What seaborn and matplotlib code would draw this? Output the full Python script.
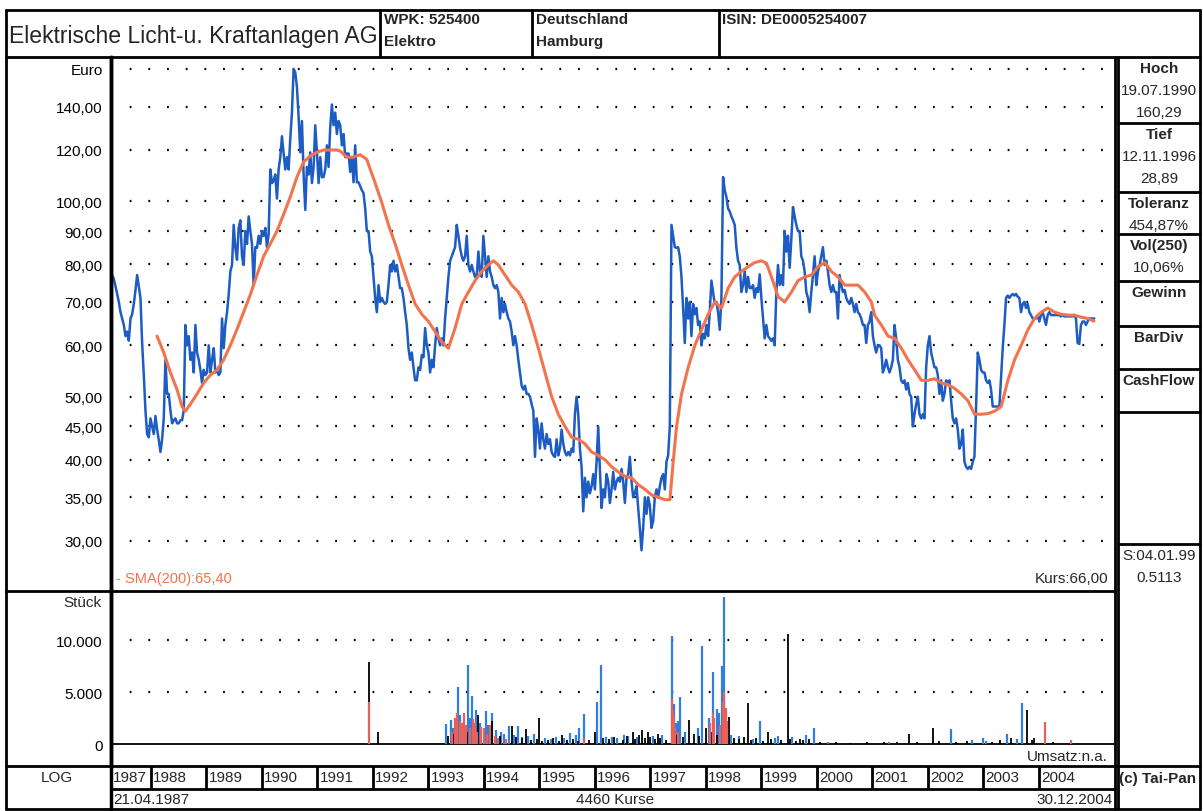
import numpy as np
import pandas as pd
import matplotlib
matplotlib.use("Agg")
import matplotlib.pyplot as plt
import seaborn as sns
from matplotlib.lines import Line2D
from matplotlib.ticker import NullLocator

W, H = 1203, 812

# --- data ---
start_date = "1987-04-21"
end_date = "2004-12-30"

price = [
    77, 76, 74, 72, 70, 67.5, 66, 64.5, 62, 63, 61, 66, 67, 69.5, 73, 77, 74, 71, 60.5, 54,
    47.6, 43.8, 43.3, 46.3, 45, 43.8, 46.7, 44.5, 42.9, 41.1, 43, 46.3, 57, 50.5, 50.5, 47.6, 45.5, 46, 46.3, 45.5,
    45.5, 46, 46, 47.6, 64.5, 60, 62, 57, 58.5, 54.5, 64.5, 58.5, 57, 55, 52.5, 55, 54, 54.5, 60, 54.5,
    57, 59.4, 54.5, 55, 54, 54.5, 66, 59.4, 64.5, 67.5, 71.8, 78, 79.8, 92, 84.8, 81.3, 91, 93.5, 82.3, 79.8,
    90, 86, 94.8, 90, 86, 74.3, 85, 84.8, 88.5, 86, 90, 88.5, 91, 85, 89, 112, 106.7, 107.7, 110, 101,
    112, 117, 126, 118.5, 112, 117, 112, 125, 137, 160, 158, 150, 135, 119, 133, 110, 97, 113, 110, 119,
    106.7, 113, 131, 119, 106.7, 117, 109, 109, 112, 122, 113, 130, 141, 131, 137, 127, 133, 131, 122, 127,
    117, 118.5, 118.5, 111, 117, 107, 122, 107, 107, 105.6, 104, 103, 97.5, 90,
    90, 83.7, 82.3, 76.5, 71, 67.5, 74.3, 70, 71, 70, 69.5, 70, 74.3, 79.8, 78, 81, 78, 79.8, 76.5, 73.5,
    73.5, 71, 67.5, 64.5, 59.4, 57, 58.5, 55.5, 53, 53, 55.5, 55, 58, 57.5, 63.8, 60, 58.5, 54.5, 57, 55.5,
    60, 63.8, 61.5, 60, 61.5, 60, 66, 71, 76.5, 81, 82.3, 83.7, 85, 92, 88.5, 84.8, 82.3, 81, 82.3, 88.5,
    79.8, 78, 79.8, 78, 76.5, 76.5, 83.7, 78, 76.5, 88.5, 82.3, 76.5, 82.3, 78, 76.5, 74.3, 73.5, 74.3, 72.5, 66,
    71, 67.5, 69.5, 67.5, 66, 65.3, 63, 60, 62, 60, 57, 54.5, 52, 51.3, 52, 50.5, 50.5, 50, 48.7, 47.6,
    40.4, 46.3, 44.5, 41.6, 45.5, 43, 41.6, 43.8, 42.3, 43, 41.1, 40.6, 40.4, 43, 40.6, 41.6, 44.5, 42.3, 41.1, 40.6,
    41.1, 40.6, 41.6, 41.1, 47, 50, 47, 41.6, 39, 33.3, 37.5, 35, 37, 35.5, 36.4, 38, 36, 39.7, 45, 38.7,
    33.7, 36, 35, 38, 37, 34.3, 36, 38.3, 36, 37, 37.5, 37, 38.7,
    37, 34.3, 37.5, 38, 40.4, 37, 35, 35.5, 36.4, 33.7, 31.4, 29, 31.4, 35, 33, 35, 34, 31.4, 32.2, 35,
    36, 35, 36.4, 37.5, 38, 36, 39.7, 40.6, 45, 92, 88.5, 85, 84.8, 85, 82.3, 76.5, 68.5, 60.5, 71, 66,
    70, 62, 69.5, 67, 68.5, 64.5, 65.3, 60, 62.5, 61.5, 64.5, 62, 67.5, 75.5, 72.5, 69.5, 70, 67.5, 63.4, 71,
    109, 104, 101.6, 97.5, 96.5, 94.8, 93.5, 92, 84.8, 81, 79.8, 72.5, 74.3, 78, 72.5, 76.5, 73.5, 73.5, 74.3, 71,
    73.5, 72.5, 77.2, 71, 66, 61.5, 64.5, 62, 61.5, 61, 61.5, 60, 72.5, 79.8, 74.3, 77, 74.3, 90, 83.7, 88.5,
    79, 87.5, 98, 94.8, 92, 90, 90, 82.3, 81, 78, 72.5, 71, 67.5, 72.5, 77, 82.3, 74.3, 78, 79.8, 82.3,
    85, 79.8, 81, 78, 74.3, 72.5, 74.3, 72.5, 72.5, 66, 77, 74.3, 72.5, 73, 71, 70, 69.5, 71, 69.5, 67.5,
    69.5, 67.5, 67, 66, 64.5, 64.5, 60.5, 64.5, 65.3, 67.5,
    62, 60, 58.5, 60, 60, 59.4, 54.5, 55.5, 57, 55.5, 54.5, 55.5, 57, 64.5, 61.5, 57, 55.5, 53, 52.5, 53,
    51.3, 52.5, 50.5, 50, 45, 47, 48.7, 50, 47, 46.3, 47, 46.3, 55.5, 60, 62, 58.5, 57, 55.5, 55.5, 54,
    50.5, 53, 49.3, 50.5, 53, 52.5, 53, 49.3, 46.3, 45.5, 46.3, 44.5, 41.6, 42.3, 44.5, 39.7, 39, 38.7, 39, 38.7,
    39.7, 40.4, 48.3, 58.5, 57, 55, 54.5, 54.5, 53, 52.5, 53, 51.3, 48.3, 48.3, 48.3, 48.3, 48.3, 53.7, 59.4, 64.5,
    71, 71.6, 71, 71.6, 72, 71.6, 72, 71.3, 71, 67.5, 69.5, 70, 68.5, 69.5, 67.5, 66.8, 66, 66, 66, 66.8,
    65.3, 66.8, 67.5, 66, 64.5, 66.8, 67.5, 66.8, 66.8, 66.8, 66.8, 66.8, 66.8, 66.5, 66.8, 66.5, 66.5, 66.5, 66.5, 66.5,
    66.5, 66.8, 66, 60.5, 60.3, 64.5, 65.3, 65.3, 64.5, 65.3, 66, 66, 66, 66,
]

sma_year = [
    1988.11, 1988.23, 1988.35, 1988.47, 1988.56, 1988.62, 1988.71, 1988.83, 1988.95, 1989.07,
    1989.19, 1989.31, 1989.43, 1989.55, 1989.67, 1989.79, 1989.91, 1990.03, 1990.15, 1990.27,
    1990.39, 1990.51, 1990.63, 1990.75, 1990.87, 1990.99, 1991.11, 1991.23, 1991.35, 1991.41,
    1991.53, 1991.65, 1991.77, 1991.89, 1991.92, 1992.04, 1992.16, 1992.28, 1992.40, 1992.52,
    1992.64, 1992.76, 1992.88, 1993.00, 1993.12, 1993.24, 1993.36, 1993.48, 1993.60, 1993.72,
    1993.84, 1993.96, 1994.08, 1994.17, 1994.26, 1994.38, 1994.50, 1994.62, 1994.74, 1994.86,
    1994.98, 1995.10, 1995.22, 1995.34, 1995.46, 1995.58, 1995.70, 1995.82, 1995.94, 1996.06,
    1996.18, 1996.30, 1996.42, 1996.54, 1996.66, 1996.78, 1996.90, 1997.02, 1997.14, 1997.26,
    1997.35, 1997.41, 1997.47, 1997.56, 1997.68, 1997.80, 1997.92, 1998.04, 1998.16, 1998.28,
    1998.40, 1998.52, 1998.64, 1998.76, 1998.88, 1999.00, 1999.09, 1999.18, 1999.30, 1999.42,
    1999.54, 1999.66, 1999.78, 1999.90, 2000.02, 2000.14, 2000.26, 2000.38, 2000.50, 2000.62,
    2000.74, 2000.86, 2000.98, 2001.04, 2001.16, 2001.28, 2001.40, 2001.52, 2001.64, 2001.76,
    2001.88, 2002.00, 2002.12, 2002.24, 2002.36, 2002.48, 2002.60, 2002.72, 2002.84, 2002.96,
    2003.08, 2003.20, 2003.32, 2003.44, 2003.56, 2003.68, 2003.80, 2003.92, 2004.04, 2004.16,
    2004.28, 2004.40, 2004.52, 2004.64, 2004.76, 2004.88, 2004.99,
]
sma_value = [
    62, 58.5, 54.5, 51.3, 48.3, 47.5, 48.7, 50.5, 52.5, 54,
    55, 57, 60, 63.5, 67.5, 71.8, 77, 82.3, 86, 90,
    95.5, 101.6, 109, 115, 117.5, 119, 120, 120, 120, 119.5,
    117, 117, 118, 116, 114, 106.7, 99.5, 92, 86, 79.8,
    74.3, 69.5, 67, 65.3, 63, 60.7, 59.4, 63.8, 69.5, 72.5,
    75.5, 78, 79.8, 81, 79.8, 77, 74.3, 72.5, 69.5, 64.5,
    59.4, 54.5, 50, 47, 45, 43.3, 43, 42.3, 41.1, 40.6,
    40, 39, 38.3, 37.7, 37.5, 36.6, 36, 35.3, 35, 34.7,
    34.7, 39.7, 45, 50.5, 55.5, 60, 63.4, 67, 70, 68.5,
    73.5, 76.5, 78, 79.3, 80.5, 81, 80.3, 76.5, 71.3, 70,
    72.5, 75.5, 76.5, 77, 79.3, 80.5, 78, 76.5, 74.3, 74.3,
    74.3, 72.5, 70, 66.7, 64.5, 62, 61.5, 59.4, 57, 55,
    53, 53, 53.3, 52.5, 52.2, 51.5, 50.5, 49.3, 47, 47,
    47.1, 47.5, 48.3, 53, 57, 60, 63.4, 66, 67.5, 68.5,
    67.5, 67, 66.8, 66.8, 66.3, 66, 65.4,
]

# volume bars (Stück), three colours as in the chart
vol_blue_year = [1993.31, 1993.40, 1993.45, 1993.53, 1993.57, 1993.62, 1993.71, 1993.74, 1993.78, 1993.86,
                 1993.92, 1994.03, 1994.08, 1994.14, 1994.22, 1994.30, 1994.36, 1994.45, 1994.55, 1994.62,
                 1994.68, 1994.80, 1994.90, 1995.10, 1995.20, 1995.30, 1995.45, 1995.55, 1995.65, 1995.72,
                 1995.80, 1996.03, 1996.10, 1996.20, 1996.30, 1996.40, 1996.52, 1996.60, 1996.75, 1997.05,
                 1997.20, 1997.38, 1997.42, 1997.46, 1997.50, 1997.54, 1997.62, 1997.85, 1997.92, 1998.05,
                 1998.12, 1998.19, 1998.23, 1998.28, 1998.33, 1998.37, 1998.45, 1998.60, 1998.85, 1998.97,
                 1999.25, 1999.30, 1999.55, 1999.80, 1999.95, 2000.20, 2001.30, 2002.42, 2002.80, 2003.00,
                 2003.05, 2003.42, 2003.60, 2003.69]
vol_blue = [1900, 2300, 1500, 5500, 2800, 2000, 7600, 2500, 4600, 3300,
            2000, 3200, 1800, 3000, 1300, 1200, 1000, 1700, 900, 1700,
            700, 800, 1000, 600, 500, 700, 600, 1100, 900, 1500,
            2900, 4000, 7600, 700, 700, 600, 900, 800, 700, 800,
            900, 10400, 3800, 2000, 2200, 4500, 1200, 1500, 9400, 2500,
            6900, 3400, 3000, 7500, 14100, 2000, 900, 800, 500, 2200,
            600, 800, 700, 900, 1500, 200, 200, 1400, 400, 600,
            300, 1000, 500, 3900]
vol_red_year = [1991.93, 1993.42, 1993.48, 1993.52, 1993.56, 1993.60, 1993.64, 1993.68, 1993.74, 1993.80,
                1993.84, 1993.88, 1993.95, 1994.00, 1994.05, 1994.10, 1994.20, 1994.25, 1994.40, 1995.80,
                1997.38, 1997.40, 1997.43, 1997.45, 1997.50, 1998.08, 1998.12, 1998.15, 1998.25, 1998.30,
                1998.33, 1998.36, 1998.38, 2004.11, 2004.58]
vol_red = [4000, 1200, 2500, 3000, 2200, 2000, 3000, 1800, 1500, 2400,
           2000, 1200, 1600, 1500, 1000, 1800, 800, 600, 500, 600,
           4300, 3200, 2500, 1500, 1200, 2000, 3000, 2500, 1800, 4000,
           5000, 3500, 2200, 2100, 400]
vol_black_year = [1991.93, 1992.09, 1993.35, 1993.45, 1993.58, 1993.65, 1993.70, 1993.80, 1993.90, 1994.00,
                  1994.10, 1994.15, 1994.20, 1994.28, 1994.40, 1994.50, 1994.58, 1994.68, 1994.75, 1994.85,
                  1994.95, 1995.00, 1995.05, 1995.15, 1995.25, 1995.35, 1995.40, 1995.50, 1995.60, 1995.70,
                  1995.90, 1996.00, 1996.15, 1996.25, 1996.35, 1996.50, 1996.58, 1996.68, 1996.72, 1996.80,
                  1996.84, 1996.90, 1996.95, 1997.00, 1997.08, 1997.13, 1997.18, 1997.28, 1997.48, 1997.58,
                  1997.70, 1997.78, 1997.88, 1998.00, 1998.10, 1998.20, 1998.41, 1998.50, 1998.60, 1998.68,
                  1998.75, 1998.82, 1998.90, 1999.02, 1999.11, 1999.18, 1999.35, 1999.47, 1999.52, 1999.62,
                  1999.70, 1999.75, 1999.85, 2000.05, 2000.35, 2000.60, 2000.90, 2001.20, 2001.45, 2001.66,
                  2001.80, 2002.09, 2002.20, 2002.50, 2002.70, 2003.15, 2003.30, 2003.50, 2003.78, 2003.88,
                  2003.91, 2004.25]
vol_black = [7900, 1200, 800, 1000, 900, 1500, 1200, 1000, 2800, 900,
             700, 2200, 600, 800, 500, 1700, 700, 600, 1400, 400,
             500, 2500, 300, 400, 600, 300, 900, 400, 500, 300,
             400, 1200, 600, 500, 700, 400, 800, 1200, 500, 900,
             1300, 600, 1200, 700, 500, 1000, 600, 400, 900, 700,
             2300, 1000, 800, 1500, 1200, 900, 2600, 600, 500, 700,
             3900, 400, 600, 300, 1200, 500, 400, 10600, 500, 300,
             500, 400, 500, 200, 150, 100, 150, 200, 150, 1000,
             200, 1500, 300, 200, 300, 200, 400, 600, 3300, 400,
             600, 200]

price_ticks = [30, 35, 40, 45, 50, 60, 70, 80, 90, 100, 120, 140, 160]
price_labels = ["30,00", "35,00", "40,00", "45,00", "50,00", "60,00", "70,00",
                "80,00", "90,00", "100,00", "120,00", "140,00", "Euro"]
vol_ticks = [0, 5000, 10000]
vol_labels = ["0", "5.000", "10.000"]
years = list(range(1987, 2005))

side_boxes = [
    ("Hoch", ["19.07.1990", "160,29"]),
    ("Tief", ["12.11.1996", "28,89"]),
    ("Toleranz", ["454,87%"]),
    ("Vol(250)", ["10,06%"]),
    ("Gewinn", []),
    ("BarDiv", []),
    ("CashFlow", []),
]

BLUE = "#1d5cc2"
ORANGE = "#f2744c"
VBLUE = "#2f7ee0"
VRED = "#e8605a"

# --- figure ---
sns.set_style("white")
plt.rcParams["font.family"] = ["Liberation Sans", "DejaVu Sans"]
plt.rcParams["lines.scale_dashes"] = False

fig = plt.figure(figsize=(W / 100, H / 100), dpi=100)


def box(x0, y0, x1, y1):
    return [x0 / W, 1 - y1 / H, (x1 - x0) / W, (y1 - y0) / H]


def hline(y, x0, x1, lw=2):
    fig.add_artist(Line2D([x0 / W, x1 / W], [1 - y / H, 1 - y / H], color="black", lw=lw))


def vline(x, y0, y1, lw=2):
    fig.add_artist(Line2D([x / W, x / W], [1 - y0 / H, 1 - y1 / H], color="black", lw=lw))


def ftext(x, y, s, **kw):
    kw.setdefault("va", "center")
    kw.setdefault("fontsize", 11)
    fig.text(x / W, 1 - y / H, s, **kw)


def to_year(d):
    d = pd.Timestamp(d)
    return d.year + (d.dayofyear - 1) / 365.25


price_year = np.linspace(to_year(start_date), to_year(end_date), len(price))
XLIM = (1987.28, 2005.37)
DOTS = (0, (1.3, 12.15))

# price panel
ax = fig.add_axes(box(111, 58, 1115, 592))
ax.set_yscale("log")
for t in price_ticks:
    ax.axhline(t, color="black", lw=1.6, linestyle=DOTS, zorder=0)
sns.lineplot(x=price_year, y=price, ax=ax, color=BLUE, lw=1.8, estimator=None, sort=False)
sns.lineplot(x=sma_year, y=sma_value, ax=ax, color=ORANGE, lw=2.2, estimator=None, sort=False)
ax.set_xlim(*XLIM)
ax.set_ylim(25.1, 166.9)
ax.set_yticks(price_ticks)
ax.set_yticklabels(price_labels)
ax.yaxis.set_minor_locator(NullLocator())
ax.set_xticks([])
ax.tick_params(axis="y", length=4, width=1.5, pad=2, labelsize=11, colors="black")
ax.set_xlabel("")
ax.set_ylabel("")
for s in ["top", "right", "bottom"]:
    ax.spines[s].set_visible(False)
ax.spines["left"].set_linewidth(2.5)
ax.spines["left"].set_color("black")
ax.text(0.005, 0.025, "- SMA(200):65,40", transform=ax.transAxes, color=ORANGE,
        fontsize=10.5, va="center")
ax.text(0.993, 0.025, "Kurs:66,00", transform=ax.transAxes, ha="right", fontsize=11, va="center")

# volume panel
axv = fig.add_axes(box(111, 592, 1115, 767))
for t in vol_ticks[1:]:
    axv.axhline(t, color="black", lw=1.6, linestyle=DOTS, zorder=0)
axv.axhline(0, color="black", lw=1.3, zorder=0)
axv.vlines(vol_blue_year, 0, vol_blue, color=VBLUE, lw=1.6)
axv.vlines(vol_black_year, 0, vol_black, color="black", lw=1.3)
axv.vlines(vol_red_year, 0, vol_red, color=VRED, lw=1.6)
axv.set_xlim(*XLIM)
axv.set_ylim(-2115, 14712)
axv.set_yticks(vol_ticks)
axv.set_yticklabels(vol_labels)
axv.set_xticks([])
axv.tick_params(axis="y", length=4, width=1.5, pad=2, labelsize=11, colors="black")
for s in ["top", "right", "bottom"]:
    axv.spines[s].set_visible(False)
axv.spines["left"].set_linewidth(2.5)
axv.spines["left"].set_color("black")
axv.text(0.993, 0.055, "Umsatz:n.a.", transform=axv.transAxes, ha="right", fontsize=11, va="center")

# year row
axy = fig.add_axes(box(111, 767, 1115, 790))
axy.set_xlim(*XLIM)
axy.set_ylim(0, 1)
axy.axis("off")
for yr in years:
    xpos = max(yr, XLIM[0])
    if yr > years[0]:
        axy.axvline(yr, color="black", lw=2)
    axy.text(xpos + 0.04, 0.5, str(yr), va="center", fontsize=11)

# frame lines
hline(11, 6, 1200)
hline(58, 6, 1200)
hline(592, 6, 1115)
hline(767, 6, 1200)
hline(790, 111, 1115)
hline(810, 6, 1200)
vline(6, 11, 810)
vline(1200, 11, 810)
vline(111, 58, 810, lw=2.5)
vline(1115, 58, 810)
vline(1118, 58, 810)
for xv in [380, 532, 719]:
    vline(xv, 11, 58)
for yb in [124, 193, 235, 282, 327, 370, 413, 545]:
    hline(yb, 1118, 1200)

# header text
ftext(9, 37, "Elektrische Licht-u. Kraftanlagen AG", fontsize=16.6)
ftext(384, 20, "WPK: 525400", fontweight="bold")
ftext(384, 42, "Elektro", fontweight="bold")
ftext(536, 20, "Deutschland", fontweight="bold")
ftext(536, 42, "Hamburg", fontweight="bold")
ftext(722, 20, "ISIN: DE0005254007", fontweight="bold")

# side column
tops = [58, 124, 193, 235, 282, 327, 370]
for top, (head, vals) in zip(tops, side_boxes):
    ftext(1159, top + 11, head, fontweight="bold", ha="center")
    for i, v in enumerate(vals):
        ftext(1159, top + 33 + 22 * i, v, ha="center")
ftext(1159, 556, "S:04.01.99", ha="center")
ftext(1159, 578, "0.5113", ha="center")
ftext(1158, 779, "(c) Tai-Pan", fontweight="bold", ha="center")

# left column / bottom row
ftext(101, 603, "Stück", ha="right")
ftext(57, 778, "LOG", ha="center")
ftext(113, 800, "21.04.1987")
ftext(615, 800, "4460 Kurse", ha="center")
ftext(1113, 800, "30.12.2004", ha="right")

fig.savefig("out.png", dpi=100)
